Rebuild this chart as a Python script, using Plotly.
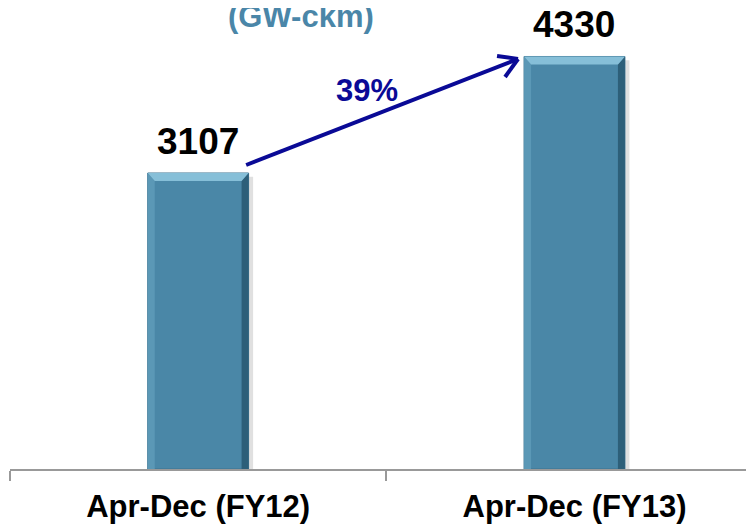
import plotly.graph_objects as go

categories = ["Apr-Dec (FY12)", "Apr-Dec (FY13)"]
values = [3107, 4330]
growth_label = "39%"
title_text = "(GW-ckm)"

bar_w = 0.268
main_col = "#4A87A7"
top_col = "#86BFD8"
left_col = "#5B98B6"
right_col = "#2D5F79"
navy = "#0A0A96"
font_fam = "Liberation Sans, Arial"

fig = go.Figure()
fig.add_trace(go.Bar(
    x=[f"<b>{c}</b>" for c in categories], y=values, width=bar_w,
    marker=dict(color=main_col, line=dict(color="#3C7391", width=1)),
    hoverinfo="skip",
))

shapes = []
bx = 0.0186  # bevel in x (category units)
by = 84      # bevel in y (data units)
for i, v in enumerate(values):
    x0, x1 = i - bar_w / 2, i + bar_w / 2
    shapes.append(dict(type="rect", xref="x", yref="y", x0=x1, x1=x1 + 0.012, y0=0, y1=v - 40,
                       fillcolor="rgba(0,0,0,0.12)", line=dict(width=0), layer="below"))
    shapes.append(dict(type="path", xref="x", yref="y",
                       path=f"M{x0},0 L{x0},{v} L{x0+bx},{v-by} L{x0+bx},0 Z",
                       fillcolor=left_col, line=dict(width=0)))
    shapes.append(dict(type="path", xref="x", yref="y",
                       path=f"M{x1},0 L{x1},{v} L{x1-bx},{v-by} L{x1-bx},0 Z",
                       fillcolor=right_col, line=dict(width=0)))
    shapes.append(dict(type="path", xref="x", yref="y",
                       path=f"M{x0},{v} L{x1},{v} L{x1-bx},{v-by} L{x0+bx},{v-by} Z",
                       fillcolor=top_col, line=dict(width=0)))

# growth arrow
ax0, ay0 = 0.1275, 3191
ax1, ay1 = 0.850, 4304
shapes.append(dict(type="line", xref="x", yref="y", x0=ax0, y0=ay0, x1=ax1, y1=ay1,
                   line=dict(color=navy, width=4)))
shapes.append(dict(type="line", xref="x", yref="y", x0=ax1, y0=ay1, x1=ax1 - 0.0558, y1=ay1 + 31,
                   line=dict(color=navy, width=4)))
shapes.append(dict(type="line", xref="x", yref="y", x0=ax1, y0=ay1, x1=ax1 - 0.0345, y1=ay1 - 189,
                   line=dict(color=navy, width=4)))

annotations = []
for i, v in enumerate(values):
    annotations.append(dict(x=i, y=v, xref="x", yref="y", text=f"<b>{v}</b>", showarrow=False,
                            yanchor="bottom", yshift=9,
                            font=dict(family=font_fam, size=37, color="#000000")))
annotations.append(dict(x=0.449, y=3978, xref="x", yref="y", text=f"<b>{growth_label}</b>",
                        showarrow=False, font=dict(family=font_fam, size=31, color=navy)))
annotations.append(dict(x=(301 - 10) / 744, y=1, xref="paper", yref="paper", text=f"<b>{title_text}</b>",
                        showarrow=False, yanchor="middle", yshift=-8,
                        font=dict(family=font_fam, size=31, color="#4A86A8")))

# page has an 8px body margin; figure is sized to fit the 754x527 window
fig.update_layout(
    width=746, height=519,
    margin=dict(l=2, r=0, t=0, b=58, autoexpand=False),
    paper_bgcolor="white", plot_bgcolor="white",
    showlegend=False,
    shapes=shapes, annotations=annotations,
    xaxis=dict(
        type="category", range=[-0.5, 1.477],
        showline=True, linecolor="#999999", linewidth=2,
        ticks="outside", ticklen=10, tickwidth=2, tickcolor="#999999",
        tickson="boundaries", ticklabelstandoff=9,
        showgrid=False, zeroline=False,
        tickfont=dict(family=font_fam, size=31, color="#000000"),
    ),
    yaxis=dict(range=[0, 4839], visible=False, showgrid=False, zeroline=False),
)

fig.write_html("out.html")
